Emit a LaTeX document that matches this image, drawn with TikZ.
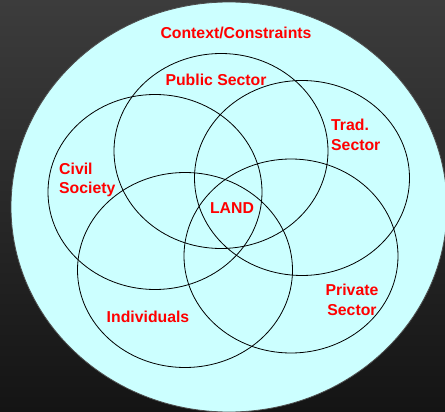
\documentclass[tikz,border=0pt]{standalone}
\usepackage{fontspec}
\setmainfont{Liberation Sans}
\definecolor{bgc}{RGB}{204,255,255}
\definecolor{lblred}{RGB}{255,0,0}
\definecolor{topgray}{RGB}{60,60,60}
\definecolor{botgray}{RGB}{20,20,20}
\begin{document}
\begin{tikzpicture}[x=1pt,y=-1pt,
  ring/.style={draw=black,line width=0.8pt},
  lbl/.style={text=lblred,font=\bfseries\fontsize{15.8}{19.5}\selectfont,inner sep=0pt}]
\useasboundingbox (0,0) rectangle (445,412);
\shade[top color=topgray,bottom color=botgray] (0,0) rectangle (445,412);
\fill[fill=bgc, draw=black!70, line width=0.8pt] (229,207) ellipse [x radius=218, y radius=205];
\draw[ring] (221,151) ellipse [x radius=107, y radius=97.5];
\draw[ring] (155,192) ellipse [x radius=107, y radius=97.5];
\draw[ring] (302,178) ellipse [x radius=107.5, y radius=97.5];
\draw[ring] (185,270) ellipse [x radius=107.5, y radius=97.5];
\draw[ring] (291,256) ellipse [x radius=107, y radius=97];
\node[lbl] (ctx) at (236,33) {Context/Constraints};
\node[lbl] (pub) at (216,80) {Public Sector};
\node[lbl,align=left,anchor=west] (trad) at (331,135) {Trad.\\Sector};
\node[lbl,align=left,anchor=west] (civ) at (59,180) {Civil\\Society};
\node[lbl] (land) at (232,208) {LAND};
\node[lbl] (ind) at (148,317) {Individuals};
\node[lbl,align=center] (priv) at (352,300) {Private\\Sector};
\end{tikzpicture}
\end{document}
